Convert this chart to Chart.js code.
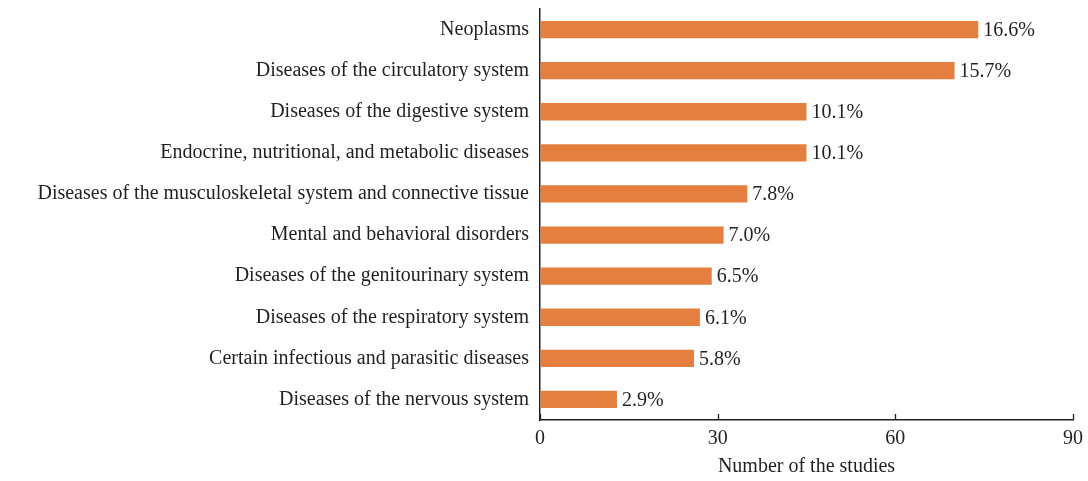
<!DOCTYPE html>
<html>
<head>
<meta charset="utf-8">
<script src="https://cdn.jsdelivr.net/npm/chart.js@4"></script>
<style>
  html, body { margin: 0; padding: 0; background: #fff; }
  #wrap { width: 1088px; height: 481px; }
</style>
</head>
<body>
<div id="wrap"><canvas id="chart"></canvas></div>
<script>
// Disease categories (ICD chapters) and study counts
const categories = [
  'Neoplasms',
  'Diseases of the circulatory system',
  'Diseases of the digestive system',
  'Endocrine, nutritional, and metabolic diseases',
  'Diseases of the musculoskeletal system and connective tissue',
  'Mental and behavioral disorders',
  'Diseases of the genitourinary system',
  'Diseases of the respiratory system',
  'Certain infectious and parasitic diseases',
  'Diseases of the nervous system'
];
const studies = [74, 70, 45, 45, 35, 31, 29, 27, 26, 13];
const shares = ['16.6%', '15.7%', '10.1%', '10.1%', '7.8%', '7.0%', '6.5%', '6.1%', '5.8%', '2.9%'];
const xTicks = [0, 30, 60, 90];

const FONT = 'Liberation Serif';
const FSIZE = 20;
const INK = '#231f20';

// percentage labels at the end of each bar + inward tick marks on x axis
const extras = {
  id: 'extras',
  afterDatasetsDraw(chart) {
    const ctx = chart.ctx;
    const meta = chart.getDatasetMeta(0);
    ctx.save();
    ctx.font = `${FSIZE}px "${FONT}"`;
    ctx.fillStyle = INK;
    ctx.textBaseline = 'middle';
    ctx.textAlign = 'left';
    meta.data.forEach((bar, i) => {
      ctx.fillText(shares[i], bar.x + 5, bar.y + 1);
    });
    // ticks pointing up from the x axis
    const x = chart.scales.x;
    const yb = chart.chartArea.bottom;
    ctx.strokeStyle = INK;
    ctx.lineWidth = 1.3;
    xTicks.forEach(v => {
      const px = Math.round(x.getPixelForValue(v)) + 0.5;
      ctx.beginPath();
      ctx.moveTo(px, yb);
      ctx.lineTo(px, yb - 6);
      ctx.stroke();
    });
    ctx.restore();
  }
};

new Chart(document.getElementById('chart'), {
  type: 'bar',
  data: {
    labels: categories,
    datasets: [{
      data: studies,
      backgroundColor: '#e47f3f',
      borderWidth: 0,
      barPercentage: 0.42,
      categoryPercentage: 1
    }]
  },
  options: {
    indexAxis: 'y',
    responsive: true,
    maintainAspectRatio: false,
    animation: false,
    layout: { padding: { top: 9, right: 15, bottom: 0, left: 0 } },
    plugins: { legend: { display: false }, tooltip: { enabled: false } },
    scales: {
      x: {
        min: 0, max: 90,
        afterBuildTicks: axis => { axis.ticks = xTicks.map(v => ({ value: v })); },
        afterFit: s => { s.height = 61; s.paddingLeft = 0; s.paddingRight = 0; },
        grid: { drawOnChartArea: false, drawTicks: false },
        border: { color: INK, width: 1.5 },
        ticks: { color: INK, font: { family: FONT, size: FSIZE }, padding: 7, maxRotation: 0 },
        title: { display: true, text: 'Number of the studies', color: INK, font: { family: FONT, size: FSIZE }, padding: { top: 0, bottom: 2 } }
      },
      y: {
        afterFit: s => { s.width = 540; s.paddingTop = 0; s.paddingBottom = 0; },
        grid: { display: false, drawTicks: false },
        border: { color: INK, width: 1.5 },
        ticks: { color: INK, font: { family: FONT, size: FSIZE }, padding: 11, autoSkip: false }
      }
    }
  },
  plugins: [extras]
});
</script>
</body>
</html>
